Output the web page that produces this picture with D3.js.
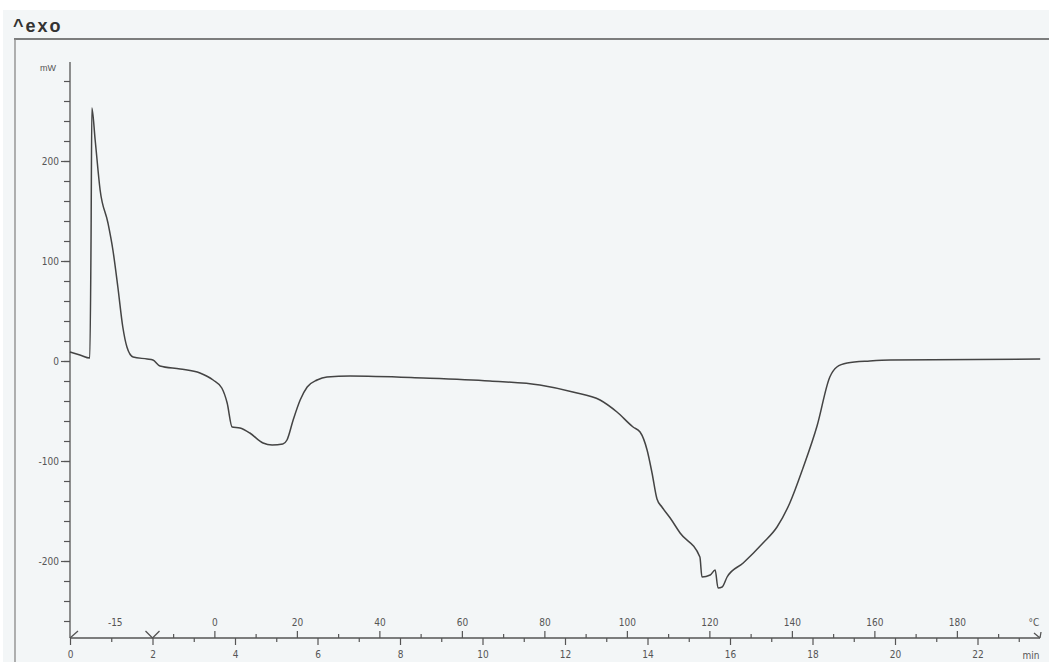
<!DOCTYPE html>
<html>
<head>
<meta charset="utf-8">
<script src="https://cdn.jsdelivr.net/npm/d3@7"></script>
<style>
  body { margin: 0; background: #fff; }
  svg { display: block; }
  .tick text { font-family: "Liberation Sans Narrow", "DejaVu Sans Condensed", sans-serif; font-size: 10px; fill: #555; }
  .tick line { stroke: #555; stroke-width: 1.2; }
</style>
</head>
<body>
<div id="canvas"></div>
<script>
// DSC trace: time (min) vs heat flow (mW)
const timeMin = [0.00, 0.24, 0.48, 0.51, 0.53, 0.61, 0.73, 0.92, 1.04, 1.16, 1.28, 1.38, 1.53, 1.87, 2.01, 2.18,
  2.67, 3.15, 3.47, 3.68, 3.81, 3.93, 4.12, 4.36, 4.68, 4.90, 5.16, 5.26, 5.41, 5.58, 5.75, 5.99, 6.23, 6.79,
  8.56, 10.18, 11.39, 12.19, 12.85, 13.26, 13.65, 13.82, 13.99, 14.11, 14.23, 14.35, 14.55, 14.79, 15.27, 15.32,
  15.52, 15.64, 15.71, 15.81, 15.93, 16.32, 16.80, 17.14, 17.45, 17.77, 18.11, 18.42, 18.59, 18.84, 19.39, 19.88, 23.52];
const heatFlow = [9, 6, 3, 120, 253, 221, 171, 138, 111, 74, 34, 14, 4, 2, 1, -5,
  -8, -12, -19, -27, -42, -66, -67, -72, -82, -84, -83, -79, -59, -39, -26, -19, -16, -15,
  -17, -20, -24, -31, -39, -51, -66, -71, -89, -112, -138, -146, -157, -172, -196, -216,
  -214, -209, -227, -226, -216, -202, -182, -166, -142, -107, -65, -16, -6, -2, 0, 1, 2];

// axis labels
const yMajor = [-200, -100, 0, 100, 200];
const timeMajor = [0, 2, 4, 6, 8, 10, 12, 14, 16, 18, 20, 22];
const timeMinor = [1, 3, 5, 7, 9, 11, 13, 15, 17, 19, 21, 23];
const tempMajor = [0, 20, 40, 60, 80, 100, 120, 140, 160, 180];
const tempMinor = [-10, 10, 30, 50, 70, 90, 110, 130, 150, 170, 190];
// program: isothermal at -15 °C for 2 min, then 10 °C/min
const isoEnd = 2, startTemp = -15, rate = 10;

const width = 1049, height = 662;
const svg = d3.select('#canvas').append('svg')
  .attr('width', width).attr('height', height);

// panel background
svg.append('rect').attr('x', 3).attr('y', 10).attr('width', width - 3).attr('height', height - 10)
  .attr('fill', '#f3f6f7');
svg.append('line').attr('x1', 14).attr('x2', width).attr('y1', 39).attr('y2', 39)
  .attr('stroke', '#555').attr('stroke-width', 1.5);
svg.append('line').attr('x1', 15).attr('x2', 15).attr('y1', 39).attr('y2', height)
  .attr('stroke', '#888').attr('stroke-width', 1.3);
svg.append('text').attr('x', 13).attr('y', 32).text('^exo')
  .style('font-family', 'Liberation Sans, Arial, sans-serif').style('font-size', '18px')
  .style('font-weight', '600').style('letter-spacing', '2px').style('fill', '#333');

const x = d3.scaleLinear().domain([0, 22]).range([70, 977.5]);
const y = d3.scaleLinear().domain([-260, 280]).range([621, 81]);
const temp = d3.scaleLinear().domain([startTemp, startTemp + rate])
  .range([x(isoEnd), x(isoEnd + 1)]);
const plain = d => String(d);

const xAxisY = 638;

// y axis
svg.append('line').attr('x1', 70).attr('x2', 70).attr('y1', 62).attr('y2', xAxisY)
  .attr('stroke', '#555').attr('stroke-width', 1.3);
svg.append('g').attr('transform', 'translate(70,0)')
  .call(d3.axisLeft(y).tickValues(d3.range(-260, 281, 20)).tickSize(6).tickFormat(''))
  .call(g => g.select('.domain').remove());
svg.append('g').attr('transform', 'translate(70,0)')
  .call(d3.axisLeft(y).tickValues(yMajor).tickSize(9).tickPadding(2).tickFormat(plain))
  .call(g => g.select('.domain').remove());
svg.append('text').attr('x', 56).attr('y', 71).attr('text-anchor', 'end').text('mW')
  .style('font-family', 'Liberation Sans Narrow, sans-serif').style('font-size', '9px').style('fill', '#555');

// x axis line
svg.append('line').attr('x1', 70).attr('x2', 1040).attr('y1', xAxisY).attr('y2', xAxisY)
  .attr('stroke', '#555').attr('stroke-width', 1.3);

// time axis (below)
svg.append('g').attr('transform', `translate(0,${xAxisY})`)
  .call(d3.axisBottom(x).tickValues(timeMajor).tickSize(7).tickPadding(6).tickFormat(plain))
  .call(g => g.select('.domain').remove());
svg.append('g').attr('transform', `translate(0,${xAxisY})`)
  .call(d3.axisBottom(x).tickValues(timeMinor).tickSize(4).tickFormat(''))
  .call(g => g.select('.domain').remove());

// temperature axis (above)
svg.append('g').attr('transform', `translate(0,${xAxisY})`)
  .call(d3.axisTop(temp).tickValues(tempMajor).tickSize(7).tickPadding(5).tickFormat(plain))
  .call(g => g.select('.domain').remove());
svg.append('g').attr('transform', `translate(0,${xAxisY})`)
  .call(d3.axisTop(temp).tickValues(tempMinor).tickSize(4).tickFormat(''))
  .call(g => g.select('.domain').remove());

const lbl = (px, py, s) => svg.append('text').attr('x', px).attr('y', py).attr('text-anchor', 'middle').text(s)
  .style('font-family', 'Liberation Sans Narrow, DejaVu Sans Condensed, sans-serif').style('font-size', '10px').style('fill', '#555');
lbl(x(isoEnd / 2) + 4, 626, String(startTemp));
lbl(1034, 626, '°C');
lbl(1031, 659, 'min');

// segment markers
const mk = d3.path();
mk.moveTo(x(0), xAxisY); mk.lineTo(x(0) + 8, xAxisY - 7);
mk.moveTo(x(isoEnd), xAxisY); mk.lineTo(x(isoEnd) - 7, xAxisY - 7);
mk.moveTo(x(isoEnd), xAxisY); mk.lineTo(x(isoEnd) + 7, xAxisY - 7);
mk.moveTo(1040, xAxisY); mk.lineTo(1034, xAxisY - 5);
mk.moveTo(1040, xAxisY); mk.lineTo(1041, xAxisY - 6);
svg.append('path').attr('d', mk.toString()).attr('fill', 'none').attr('stroke', '#555').attr('stroke-width', 1.3);

// curve
const line = d3.line().x(d => x(d[0])).y(d => y(d[1])).curve(d3.curveMonotoneX);
svg.append('path').datum(d3.zip(timeMin, heatFlow))
  .attr('d', line).attr('fill', 'none').attr('stroke', '#444').attr('stroke-width', 1.5)
  .attr('stroke-linejoin', 'round');
</script>
</body>
</html>
